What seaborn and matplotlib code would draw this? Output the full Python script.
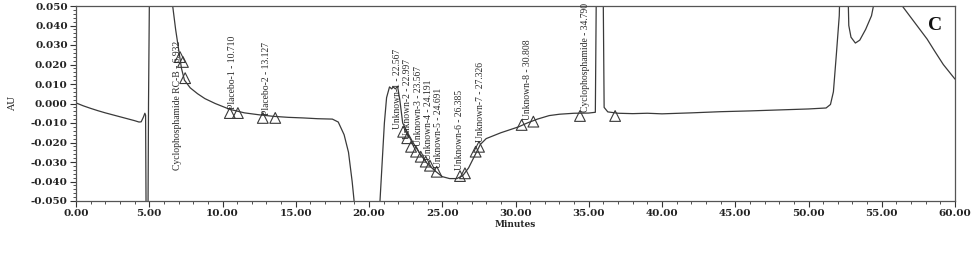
import matplotlib
matplotlib.use("Agg")
import matplotlib.pyplot as plt
from matplotlib.ticker import MultipleLocator, FormatStrFormatter
import seaborn as sns
import pandas as pd

# ---- trace (minutes, AU) ----
time_min = [0.0, 0.5, 1.0, 1.5, 2.0, 2.5, 3.0, 3.5, 4.0, 4.3, 4.45, 4.6, 4.7, 4.75, 4.8, 4.9,
            4.95, 5.05, 6.5, 6.6, 6.8, 7.0, 7.2, 7.4, 7.8, 8.3, 8.8, 9.5, 10.5, 11.5, 12.5,
            13.5, 14.5, 15.5, 16.5, 17.5, 17.9, 18.3, 18.6, 18.85, 19.05, 19.3, 20.5, 20.75,
            20.9, 21.05, 21.2, 21.4, 21.55, 21.65, 21.8, 21.95, 22.1, 22.3, 22.6, 23.0, 23.5,
            24.0, 24.5, 25.0, 25.5, 26.0, 26.4, 26.8, 27.2, 27.6, 28.0, 28.5, 29.0, 29.6,
            30.2, 30.8, 31.5, 32.3, 33.0, 34.0, 35.0, 35.45, 35.55, 35.95, 36.05, 36.3, 37.0,
            38.0, 39.0, 40.0, 42.0, 44.0, 46.0, 48.0, 50.0, 51.2, 51.5, 51.7, 51.9, 52.1,
            52.25, 52.6, 52.75, 52.9, 53.2, 53.5, 53.9, 54.3, 54.7, 56.2, 56.4, 57.0, 57.6,
            58.1, 58.6, 59.2, 60.0]
absorb_au = [0.0003, -0.0012, -0.0025, -0.0037, -0.0048, -0.0058, -0.0068, -0.0078, -0.0088,
             -0.0095, -0.0094, -0.0070, -0.0050, -0.0060, -0.08, -0.08,
             0.0, 0.09, 0.09, 0.050, 0.038, 0.028, 0.018, 0.012, 0.008, 0.005, 0.0025, 0.0,
             -0.003, -0.0048, -0.0058, -0.0066, -0.0071, -0.0074, -0.0078, -0.0080, -0.0095,
             -0.016, -0.025, -0.040, -0.055, -0.08, -0.08, -0.05, -0.03, -0.010, 0.003,
             0.0085, 0.0075, 0.0085, 0.0075, 0.0088, 0.002, -0.010, -0.0145, -0.020, -0.026,
             -0.031, -0.0345, -0.0375, -0.0385, -0.0385, -0.037, -0.033, -0.027, -0.021,
             -0.018, -0.0165, -0.0150, -0.0135, -0.0120, -0.010, -0.008, -0.0062, -0.0055,
             -0.0050, -0.0049, -0.0045, 0.09, 0.09, -0.002, -0.0043, -0.0050, -0.0052,
             -0.0050, -0.0053, -0.0048, -0.0042, -0.0038, -0.0033, -0.0028, -0.0023,
             -0.0005, 0.006, 0.025, 0.045, 0.09, 0.09, 0.040, 0.034, 0.031, 0.0325, 0.038,
             0.045, 0.06, 0.06, 0.050, 0.044, 0.038, 0.033, 0.027, 0.020, 0.0125]

# ---- integration markers ----
marker_time = [7.1, 7.3, 7.45, 10.5, 11.05, 12.75, 13.6, 22.33, 22.61, 22.87, 23.21, 23.53,
               23.87, 24.16, 24.62, 26.21, 26.55, 27.28, 27.51, 30.42, 31.22, 34.4, 36.8]
marker_au = [0.0238, 0.0213, 0.013, -0.0049, -0.0049, -0.0074, -0.0074, -0.0145, -0.0178,
             -0.0222, -0.0247, -0.0273, -0.0298, -0.0319, -0.0350, -0.0372, -0.0358,
             -0.0247, -0.0222, -0.0110, -0.0093, -0.0064, -0.0064]

# ---- peak labels ----
peak_labels = ["Cyclophosphamide RC-B - 6.932", "Placebo-1 - 10.710", "Placebo-2 - 13.127",
               "Unknown-1 - 22.567", "Unknown-2 - 22.997", "Unknown-3 - 23.567",
               "Unknown-4 - 24.191", "Unknown-5 - 24.691", "Unknown-6 - 26.385",
               "Unknown-7 - 27.326", "Unknown-8 - 30.808", "Cyclophosphamide - 34.790"]
label_time = [6.9, 10.65, 13.0, 21.95, 22.65, 23.35, 24.05, 24.75, 26.2, 27.6, 30.85, 34.75]
label_au = [-0.034, -0.003, -0.006, -0.013, -0.018, -0.022, -0.029, -0.033, -0.034, -0.020,
            -0.0085, -0.0043]

x_ticks = [0, 5, 10, 15, 20, 25, 30, 35, 40, 45, 50, 55, 60]
y_ticks = [-0.05, -0.04, -0.03, -0.02, -0.01, 0.0, 0.01, 0.02, 0.03, 0.04, 0.05]

sns.set_style("ticks")
plt.rcParams['font.family'] = ['DejaVu Serif']

fig = plt.figure(figsize=(9.78, 2.67), dpi=100)
ax = fig.add_axes([76 / 978, 1 - 201 / 267, (955 - 76) / 978, (201 - 6) / 267])

trace = pd.DataFrame({"Minutes": time_min, "AU": absorb_au})
sns.lineplot(data=trace, x="Minutes", y="AU", sort=False, estimator=None,
             color="#3a3a3a", linewidth=0.9, ax=ax)

marks = pd.DataFrame({"t": marker_time, "v": marker_au})
sns.scatterplot(data=marks, x="t", y="v", marker="^", s=60, ax=ax, zorder=3)
coll = ax.collections[-1]
coll.set_facecolor("none")
coll.set_edgecolor("#3a3a3a")
coll.set_linewidth(0.8)

for txt, t, v in zip(peak_labels, label_time, label_au):
    ax.text(t, v, txt, rotation=90, ha="center", va="bottom", fontsize=6.9,
            family=["Liberation Serif"], color="#2a2a2a", clip_on=False)

ax.set_xlim(0, 60)
ax.set_ylim(-0.05, 0.05)
ax.set_xticks(x_ticks)
ax.set_yticks(y_ticks)
ax.xaxis.set_minor_locator(MultipleLocator(1))
ax.yaxis.set_minor_locator(MultipleLocator(0.002))
ax.xaxis.set_major_formatter(FormatStrFormatter("%.2f"))
ax.yaxis.set_major_formatter(FormatStrFormatter("%.3f"))
ax.tick_params(axis="both", which="major", direction="out", length=4, width=0.8,
               labelsize=7.5, colors="#333333", pad=2)
ax.tick_params(axis="both", which="minor", direction="out", length=2, width=0.6,
               colors="#333333")
for lab in ax.get_xticklabels() + ax.get_yticklabels():
    lab.set_fontweight("bold")
    lab.set_color("#222222")

for side in ["top", "right", "left", "bottom"]:
    ax.spines[side].set_visible(True)
    ax.spines[side].set_color("#555555")
    ax.spines[side].set_linewidth(0.9)

ax.set_xlabel("Minutes", fontsize=6.5, fontweight="bold", labelpad=1)
ax.set_ylabel("AU", fontsize=7, labelpad=10)

ax.text(0.985, 0.9, "C", transform=ax.transAxes, ha="right", va="center",
        fontsize=14, fontweight="bold", family="Liberation Serif", color="#111111")

fig.savefig("out.png", dpi=100)
